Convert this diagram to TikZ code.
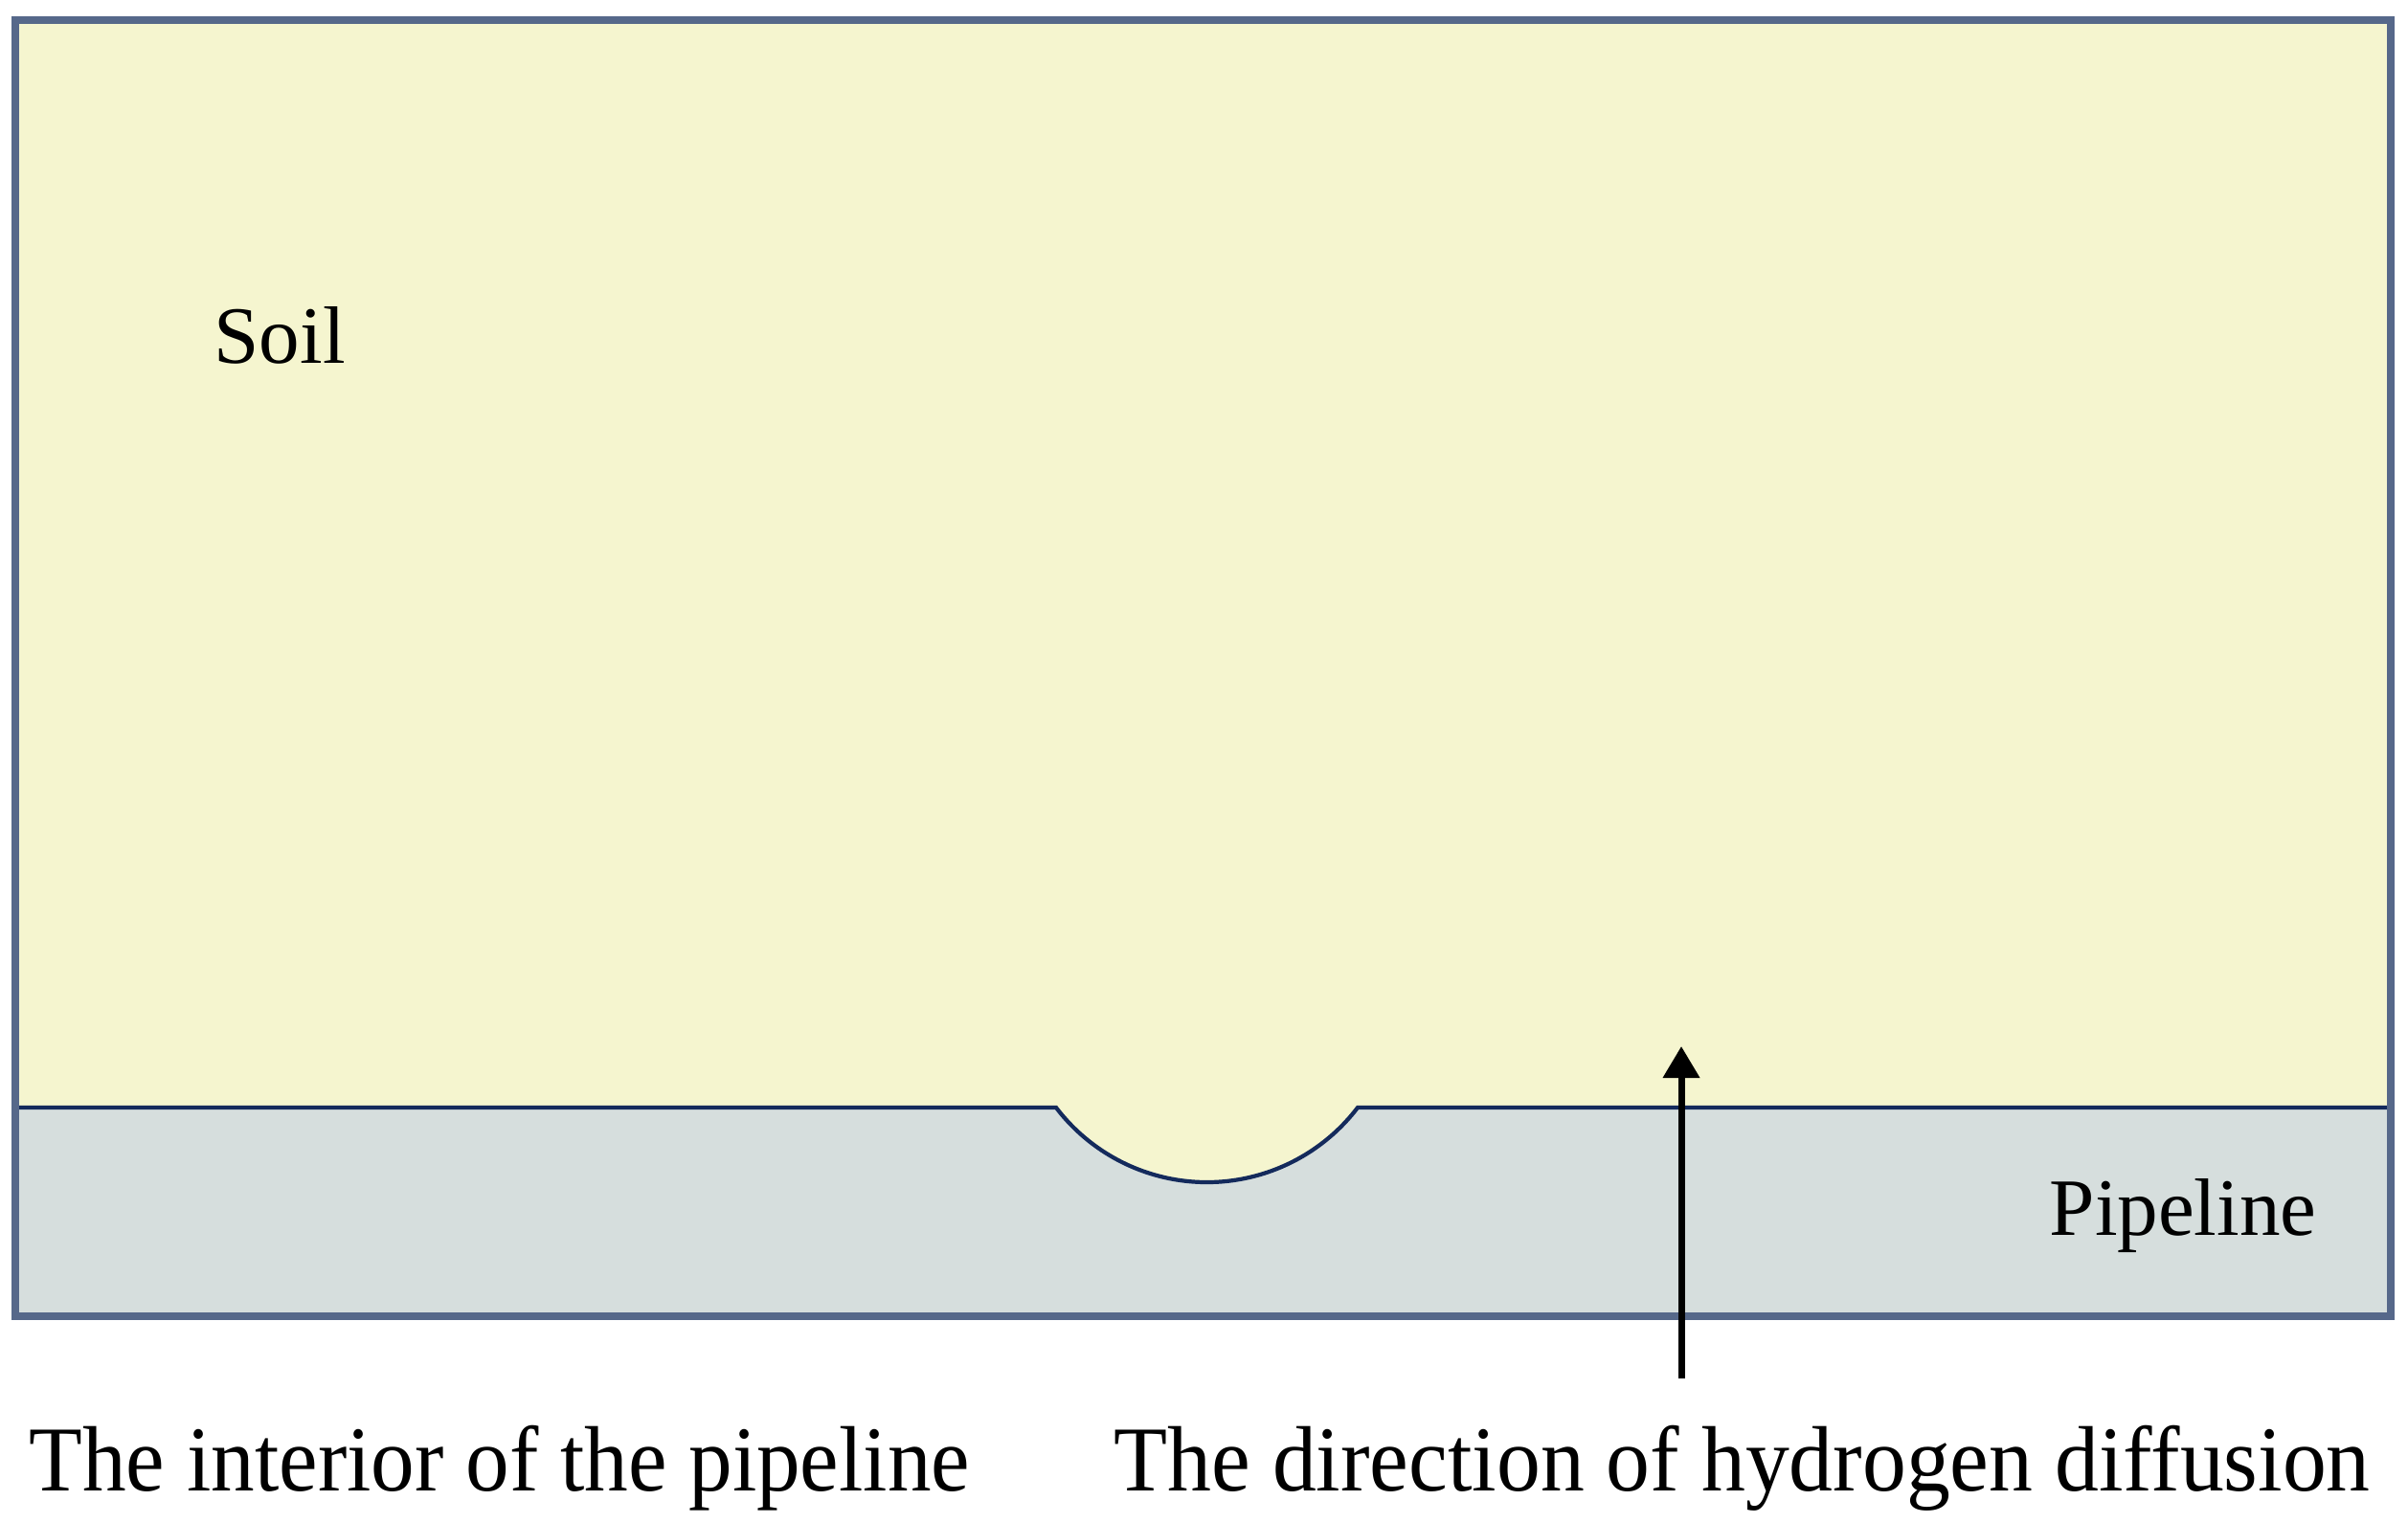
\documentclass[tikz,border=0pt]{standalone}
\usepackage{fontspec}
\setmainfont{Liberation Serif}
\usetikzlibrary{arrows.meta}
\definecolor{soilfill}{HTML}{F5F5CF}
\definecolor{pipefill}{HTML}{D6DEDD}
\definecolor{framecol}{HTML}{56688A}
\definecolor{linecol}{HTML}{142A5C}
\tikzset{
  labeltext/.style={anchor=base west, inner sep=0pt, font=\fontsize{24.2}{29}\selectfont},
  bigtext/.style={anchor=base west, inner sep=0pt, font=\fontsize{27.6}{33}\selectfont},
  interface/.style={draw=linecol, line width=1.2pt},
  frame/.style={draw=framecol, line width=2.2pt},
  diffarrow/.style={draw=black, line width=2pt, -{Triangle[width=0.37cm,length=0.33cm]}}
}
\begin{document}
\begin{tikzpicture}
\useasboundingbox[fill=white] (0,0) rectangle (25.15,15.9);
% pipeline (whole box grey first)
\fill[pipefill] (0.16,2.15) rectangle (24.97,15.69);
% soil region with pit
\fill[soilfill] (0.16,4.33) -- (11.03,4.33) arc[start angle=217.3, end angle=322.7, radius=1.98cm]
  -- (24.97,4.33) -- (24.97,15.69) -- (0.16,15.69) -- cycle;
% interface
\draw[interface] (0.16,4.33) -- (11.03,4.33) arc[start angle=217.3, end angle=322.7, radius=1.98cm] -- (24.97,4.33);
% frame
\draw[frame] (0.16,2.15) rectangle (24.97,15.69);
% labels
\node[labeltext] (soil) at (2.23,12.10) {Soil};
\node[labeltext] (pipe) at (21.40,3.00) {Pipeline};
\node[bigtext, xscale=0.94] (interior) at (0.30,0.33) {The interior of the pipeline};
\node[bigtext, xscale=0.945] (direction) at (11.63,0.33) {The direction of hydrogen diffusion};
% arrow
\coordinate (arrstart) at (17.56,1.50);
\coordinate (arrend) at (17.56,4.97);
\draw[diffarrow] (arrstart) -- (arrend);
\end{tikzpicture}
\end{document}
